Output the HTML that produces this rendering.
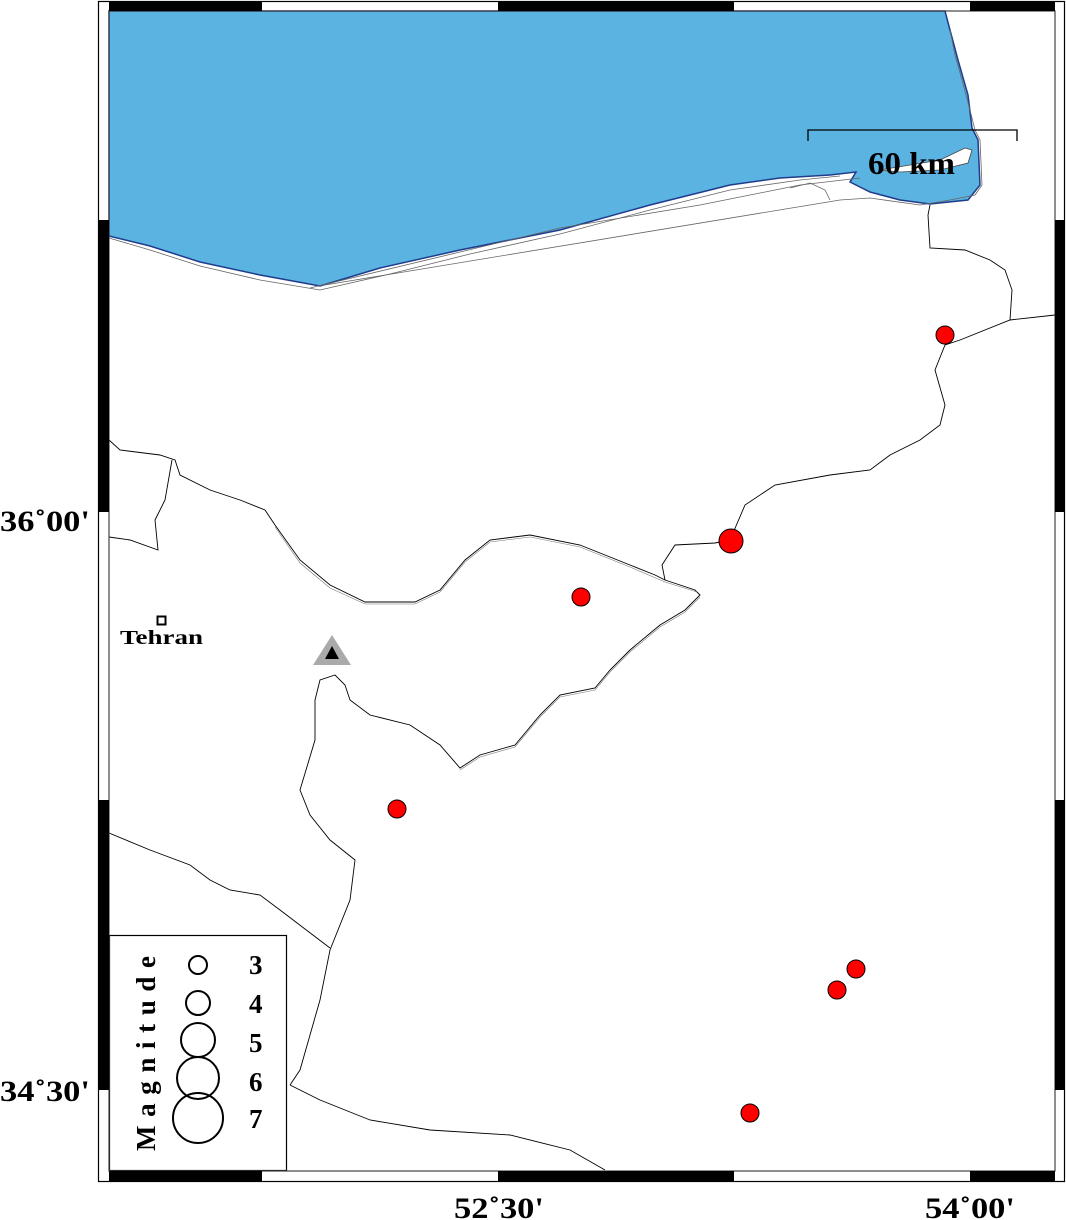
<!DOCTYPE html>
<html><head><meta charset="utf-8"><style>
html,body{margin:0;padding:0;background:#fff;}
svg{display:block;}
text{font-family:"Liberation Serif",serif;font-weight:bold;fill:#000;}
</style></head><body>
<svg width="1066" height="1220" viewBox="0 0 1066 1220" xmlns="http://www.w3.org/2000/svg">
<rect x="0" y="0" width="1066" height="1220" fill="#fff"/>
<!-- sea -->
<polygon fill="#5ab3e0" stroke="#1f3c8c" stroke-width="1.5" points="109,11 945,11 950,30 958,60 968,95 972,128 978,140 980,185 968,200 930,204 900,200 870,192 850,182 856,172 830,175 780,178 730,185 650,205 560,230 460,250 380,268 320,286 260,275 200,262 150,246 109,236"/>
<polygon fill="#fff" stroke="#444" stroke-width="0.8" points="880,170 940,160 965,148 972,150 968,163 940,170 900,172"/>
<polyline fill="none" stroke="#666" stroke-width="0.8" points="109,238 150,250 200,266 260,280 320,290 390,274 470,254 560,234 650,210 730,190 800,180 840,176"/>
<polyline fill="none" stroke="#666" stroke-width="0.8" points="310,288 560,228 700,205 800,185 860,178"/>
<polyline fill="none" stroke="#666" stroke-width="0.8" points="325,285 840,200 870,198 920,205 950,200 975,195 982,185 980,140 975,130 970,110 962,80 955,55 950,30"/>
<polyline fill="none" stroke="#666" stroke-width="0.8" points="790,188 810,183 825,190 830,200"/>
<!-- land boundaries -->
<g fill="none" stroke="#000" stroke-width="0.9">
<polyline points="109,440 120,450 160,455 175,460 180,475 210,490 240,500 265,510 275,525 300,560 330,585 365,602 415,602 440,590 465,560 490,540 530,535 580,545 630,565 655,575 665,580 695,590 700,595 685,610 660,625 630,650 610,670 595,688 560,695 540,715 515,745 480,755 460,768 440,745 410,725 370,715 350,700 345,685 335,675 320,680 315,700 315,740 300,790 310,815 330,840 355,860 350,900 330,950 320,1000 300,1070 290,1085"/>
<polyline points="290,1085 320,1100 370,1120 430,1130 510,1135 570,1150 605,1170"/>
<polyline points="109,537 130,540 158,550 155,520 165,500 172,460"/>
<polyline points="109,833 150,850 190,865 210,880 230,890 260,895 280,910 330,948"/>
<polyline points="665,580 662,565 675,545 715,543 730,540 745,505 775,485 830,475 870,470 890,455 920,440 940,425 945,405 935,370 945,345 960,340 1010,320 1055,315"/>
<polyline points="1010,320 1012,290 1005,270 990,260 965,250 930,248 928,215 930,205"/>
</g>
<g fill="none" stroke="#777" stroke-width="0.6">
<polyline points="275,527 300,563 330,588 365,604 415,604 440,592 465,562 490,542 530,537 580,547 630,567 665,582 697,592"/>
<polyline points="700,597 685,612 660,627 630,652 610,672 595,690 560,697 540,717 515,747 480,757 460,770"/>
</g>
<!-- scale bar -->
<polyline fill="none" stroke="#000" stroke-width="1.3" points="808,141 808,130 1017,130 1017,141"/>
<text x="868" y="174" font-size="32" textLength="87" lengthAdjust="spacingAndGlyphs">60 km</text>
<!-- events -->
<g fill="#f00" stroke="#000" stroke-width="1">
<circle cx="945" cy="335" r="9"/>
<circle cx="731" cy="541" r="12"/>
<circle cx="581" cy="597" r="9"/>
<circle cx="397" cy="809" r="9"/>
<circle cx="856" cy="969" r="9"/>
<circle cx="837" cy="990" r="9"/>
<circle cx="750" cy="1113" r="9"/>
</g>
<!-- Tehran -->
<rect x="157.5" y="616.5" width="8" height="8" fill="#fff" stroke="#000" stroke-width="2"/>
<text x="120" y="644" font-size="20" textLength="83" lengthAdjust="spacingAndGlyphs">Tehran</text>
<polygon points="332,635 351,665 313,665" fill="#aaa"/>
<polygon points="332,646 339,659 325,659" fill="#000"/>
<!-- legend -->
<rect x="109.5" y="935.5" width="177" height="235" fill="#fff" stroke="#000" stroke-width="1.2"/>
<g fill="none" stroke="#000" stroke-width="2">
<circle cx="198" cy="965" r="9"/>
<circle cx="198" cy="1003" r="12"/>
<circle cx="198" cy="1040" r="17"/>
<circle cx="198" cy="1078" r="21"/>
<circle cx="198" cy="1118" r="25"/>
</g>
<g font-size="27">
<text x="249" y="974">3</text>
<text x="249" y="1013">4</text>
<text x="249" y="1052">5</text>
<text x="249" y="1091">6</text>
<text x="249" y="1128">7</text>
</g>
<text transform="translate(155,1151) rotate(-90)" font-size="27" textLength="195" lengthAdjust="spacing">Magnitude</text>
<!-- frame -->
<g stroke="#000" stroke-width="1.2">
<rect x="98.5" y="1.5" width="966" height="1180" fill="none"/>
<rect x="109" y="11" width="946" height="1160" fill="none" stroke="#444"/>
</g>
<g fill="#000">
<rect x="109" y="2" width="153" height="9"/>
<rect x="498" y="2" width="236" height="9"/>
<rect x="970" y="2" width="85" height="9"/>
<rect x="109" y="1171" width="153" height="10"/>
<rect x="498" y="1171" width="236" height="10"/>
<rect x="970" y="1171" width="85" height="10"/>
<rect x="99" y="220" width="10" height="292"/>
<rect x="99" y="800" width="10" height="290"/>
<rect x="1055" y="220" width="10" height="292"/>
<rect x="1055" y="800" width="10" height="290"/>
</g>
<g font-size="30">
<text x="0" y="531" textLength="90" lengthAdjust="spacingAndGlyphs">36˚00'</text>
<text x="0" y="1101" textLength="90" lengthAdjust="spacingAndGlyphs">34˚30'</text>
<text x="454" y="1218" textLength="90" lengthAdjust="spacingAndGlyphs">52˚30'</text>
<text x="925" y="1218" textLength="90" lengthAdjust="spacingAndGlyphs">54˚00'</text>
</g>
</svg>
</body></html>
